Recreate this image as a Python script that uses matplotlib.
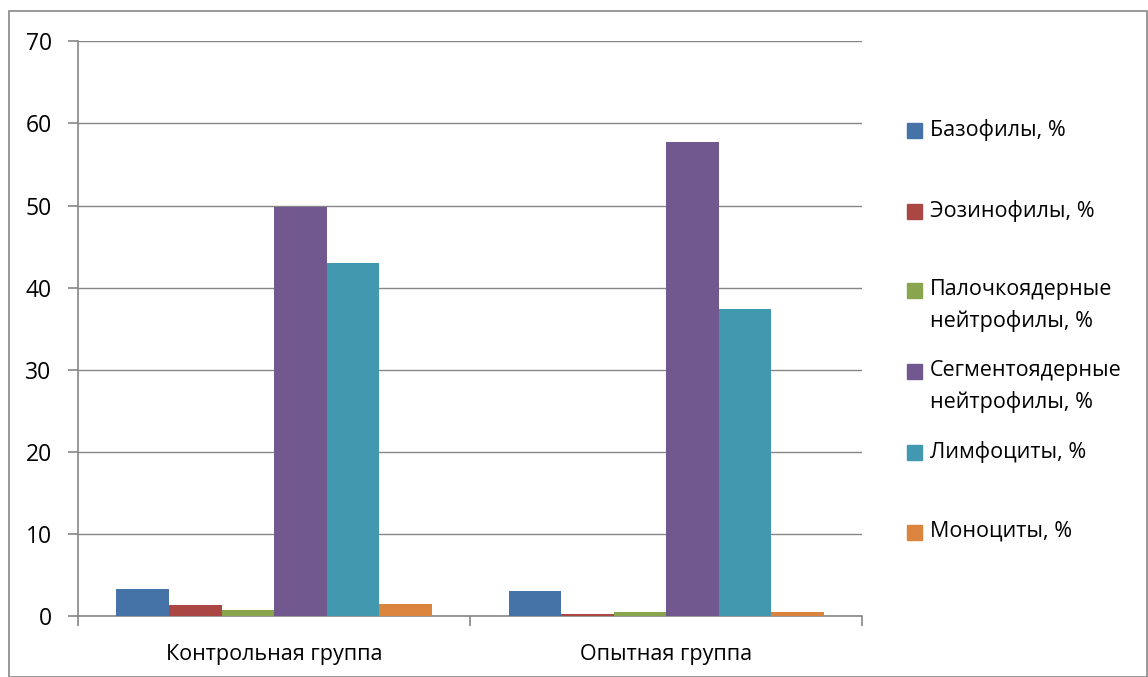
import matplotlib.pyplot as plt
import numpy as np
from matplotlib.patches import Rectangle

groups = ["Контрольная группа", "Опытная группа"]
series = ["Базофилы, %", "Эозинофилы, %", "Палочкоядерные\nнейтрофилы, %",
          "Сегментоядерные\nнейтрофилы, %", "Лимфоциты, %", "Моноциты, %"]
control = [3.3, 1.3, 0.7, 49.8, 43.0, 1.5]
experiment = [3.1, 0.3, 0.5, 57.7, 37.4, 0.5]
colors = ["#4572A7", "#AA4643", "#89A54E", "#71588F", "#4198AF", "#DB843D"]

plt.rcParams['font.family'] = ['Open Sans', 'DejaVu Sans']

fig = plt.figure(figsize=(11.48, 6.77), dpi=100)
ax = fig.add_axes([0.068, 0.090, 0.683, 0.849])

x = np.arange(len(groups))
w = 0.134
for i, name in enumerate(series):
    vals = [control[i], experiment[i]]
    ax.bar(x + (i - 2.5) * w, vals, w, color=colors[i], zorder=3)

ax.set_xlim(-0.5, 1.5)
ax.set_ylim(0, 70)
ax.set_yticks(range(0, 71, 10))
ax.yaxis.grid(True, color="#868686", linewidth=1)
ax.set_axisbelow(True)

for s in ["top", "right"]:
    ax.spines[s].set_visible(False)
for s in ["left", "bottom"]:
    ax.spines[s].set_color("#868686")
    ax.spines[s].set_linewidth(1.2)

ax.set_xticks(x)
ax.set_xticklabels(groups)
ax.set_xticks([-0.5, 0.5, 1.5], minor=True)
ax.tick_params(axis="x", which="major", length=0, pad=20, labelsize=15.5)
ax.tick_params(axis="x", which="minor", length=7, color="#868686", width=1.2)
ax.tick_params(axis="y", length=7, color="#868686", width=1.2, pad=12, labelsize=16.5)

# legend drawn by hand so the square sits next to the first line
leg_y = [130, 211, 290, 371, 452, 532]
for i, name in enumerate(series):
    yf = 1 - leg_y[i] / 677
    fig.add_artist(Rectangle((907 / 1148, yf - 7.5 / 677), 15 / 1148, 15 / 677,
                             transform=fig.transFigure, color=colors[i]))
    fig.text(930 / 1148, yf + 11 / 677, name, fontsize=15.5, va="top", ha="left",
             linespacing=1.6)

# chart border
fig.add_artist(Rectangle((9 / 1148, 0), 1 - 10 / 1148, 1 - 11 / 677,
                         transform=fig.transFigure, fill=False,
                         edgecolor="#868686", linewidth=1.2))

fig.savefig("out.png", dpi=100)
